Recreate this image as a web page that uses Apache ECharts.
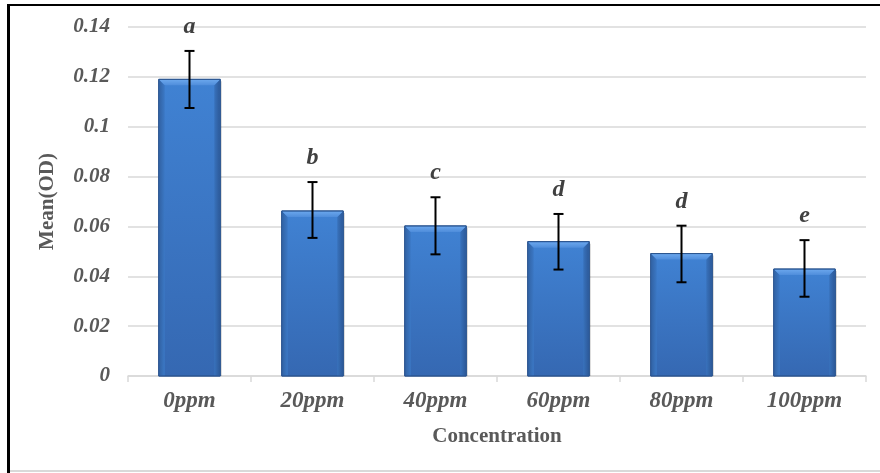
<!DOCTYPE html>
<html>
<head>
<meta charset="utf-8">
<script src="https://cdn.jsdelivr.net/npm/echarts@6/dist/echarts.min.js"></script>
<style>
html,body{margin:0;padding:0;background:#fff;}
#chart{position:absolute;left:0;top:0;width:880px;height:473px;}
#bl{position:absolute;left:7px;top:5px;width:3px;height:468px;background:#000;}
#bt{position:absolute;left:7px;top:4px;width:873px;height:2px;background:#000;}
#bb{position:absolute;left:10px;top:470px;width:870px;height:2px;background:#d9d9d9;}
</style>
</head>
<body>
<div id="chart"></div>
<div id="bl"></div><div id="bt"></div><div id="bb"></div>
<script>
const categories = ['0ppm','20ppm','40ppm','60ppm','80ppm','100ppm'];
const means = [0.119, 0.0662, 0.0602, 0.0539, 0.0491, 0.0429];
const errUpper = [0.1304, 0.0778, 0.0717, 0.0650, 0.0603, 0.0545];
const errLower = [0.1075, 0.0554, 0.0488, 0.0427, 0.0376, 0.0318];
const letters = ['a','b','c','d','d','e'];
const yTicks = [0, 0.02, 0.04, 0.06, 0.08, 0.1, 0.12, 0.14];

const chart = echarts.init(document.getElementById('chart'));
const serif = 'Liberation Serif';

function barRender(params, api) {
  const i = api.value(0);
  const v = api.value(1);
  const top = api.coord([i, v]);
  const base = api.coord([i, 0]);
  const bw = api.size([1, 0])[0] * 0.5;
  const x0 = top[0] - bw / 2, x1 = top[0] + bw / 2;
  const y0 = top[1], y1 = base[1];
  const b = 6;
  return {
    type: 'group',
    children: [
      {type:'rect', shape:{x:x0+1.5, y:y0+2, width:bw, height:y1-y0-2}, style:{fill:'rgba(0,0,0,0.18)'}},
      {type:'rect', shape:{x:x0, y:y0, width:bw, height:y1-y0},
        style:{fill:new echarts.graphic.LinearGradient(0,0,0,1,[{offset:0,color:'#4082d3'},{offset:1,color:'#3568b2'}]), stroke:'#2b5590', lineWidth:1}},
      {type:'polygon', shape:{points:[[x0+0.5,y0+0.5],[x0+b,y0+b],[x0+b,y1-0.5],[x0+0.5,y1-0.5]]},
        style:{fill:new echarts.graphic.LinearGradient(0,0,1,0,[{offset:0,color:'#3263a5'},{offset:1,color:'#3b78c5'}])}},
      {type:'polygon', shape:{points:[[x1-0.5,y0+0.5],[x1-b,y0+b],[x1-b,y1-0.5],[x1-0.5,y1-0.5]]},
        style:{fill:new echarts.graphic.LinearGradient(1,0,0,0,[{offset:0,color:'#2d5a9a'},{offset:1,color:'#3872bc'}])}},
      {type:'polygon', shape:{points:[[x0+0.5,y0+0.5],[x1-0.5,y0+0.5],[x1-b,y0+b],[x0+b,y0+b]]},
        style:{fill:new echarts.graphic.LinearGradient(0,0,0,1,[{offset:0,color:'#6aa6ec'},{offset:1,color:'#4f8ddb'}])}},
      {type:'rect', shape:{x:x0, y:y0, width:bw, height:y1-y0}, style:{fill:'none', stroke:'#2b5590', lineWidth:1}}
    ]
  };
}

function errRender(params, api) {
  const i = api.value(0);
  const hi = api.coord([i, api.value(1)]);
  const lo = api.coord([i, api.value(2)]);
  const cap = 5;
  const ls = {stroke:'#000', lineWidth:2};
  return {
    type:'group',
    children:[
      {type:'line', shape:{x1:hi[0], y1:hi[1], x2:lo[0], y2:lo[1]}, style:ls},
      {type:'line', shape:{x1:hi[0]-cap, y1:hi[1], x2:hi[0]+cap, y2:hi[1]}, style:ls},
      {type:'line', shape:{x1:lo[0]-cap, y1:lo[1], x2:lo[0]+cap, y2:lo[1]}, style:ls},
      {type:'text', x:hi[0], y:hi[1]-24, style:{text:letters[i], fill:'#404040', fontFamily:serif, fontStyle:'italic', fontWeight:'bold', fontSize:24, align:'center', verticalAlign:'middle'}}
    ]
  };
}

chart.setOption({
  animation:false,
  backgroundColor:'#fff',
  grid:{left:128, right:14, top:27, bottom:97, containLabel:false},
  xAxis:{
    type:'category', data:categories,
    name:'Concentration', nameLocation:'middle', nameGap:50,
    nameTextStyle:{fontFamily:serif, fontWeight:'bold', fontSize:21, color:'#595959'},
    axisLine:{show:true, lineStyle:{color:'#d9d9d9', width:1.5}},
    axisTick:{show:true, length:6, alignWithLabel:false, lineStyle:{color:'#d9d9d9', width:1.5}},
    axisLabel:{fontFamily:serif, fontStyle:'italic', fontWeight:'bold', fontSize:23, color:'#595959', margin:14}
  },
  yAxis:{
    type:'value', min:0, max:0.14, interval:0.02,
    name:'Mean(OD)', nameLocation:'middle', nameGap:70, nameRotate:90,
    nameTextStyle:{fontFamily:serif, fontWeight:'bold', fontSize:21, color:'#595959'},
    axisLine:{show:false}, axisTick:{show:false},
    splitLine:{lineStyle:{color:'#d9d9d9', width:1.5}},
    axisLabel:{fontFamily:serif, fontStyle:'italic', fontWeight:'bold', fontSize:21, color:'#595959', margin:18,
      formatter:function(v){ const t = yTicks.find(x=>Math.abs(x-v)<1e-9); return String(t===undefined?v:t); }}
  },
  series:[
    {type:'custom', renderItem:barRender, data:means.map((m,i)=>[i,m]), encode:{x:0,y:1}, z:2},
    {type:'custom', renderItem:errRender, data:means.map((m,i)=>[i,errUpper[i],errLower[i]]), encode:{x:0,y:[1,2]}, z:3}
  ]
});
</script>
</body>
</html>
